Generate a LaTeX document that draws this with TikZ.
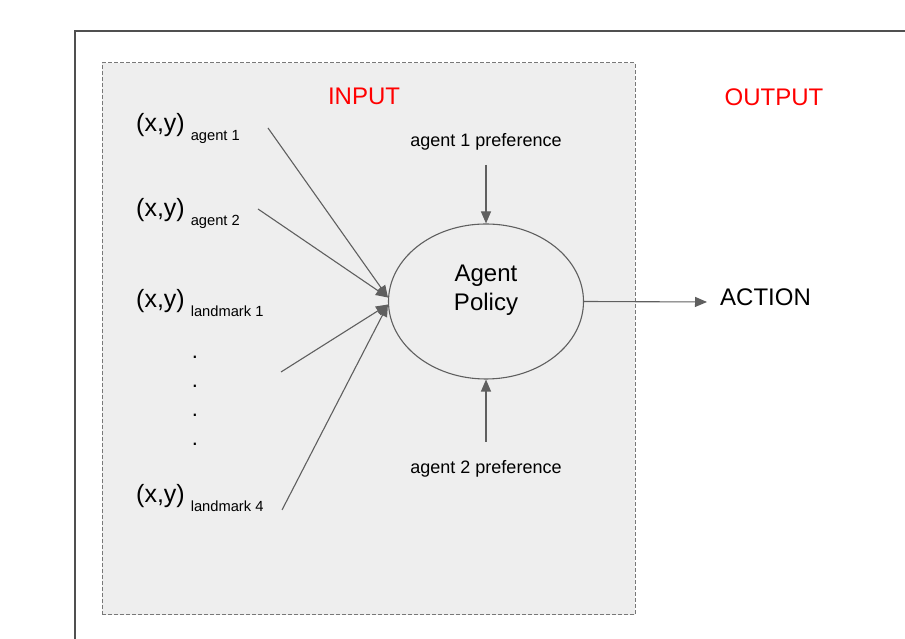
\documentclass[tikz,border=0pt]{standalone}
\usepackage{fontspec}
\setmainfont{Liberation Sans}
\usetikzlibrary{arrows.meta,shapes.geometric}
\definecolor{framegray}{RGB}{80,80,80}
\definecolor{dashgray}{RGB}{120,120,120}
\definecolor{boxfill}{RGB}{238,238,238}
\definecolor{arrgray}{RGB}{95,95,95}
\definecolor{redtxt}{RGB}{255,0,0}
\tikzset{
  conn/.style={draw=arrgray, line width=1.1pt, -{Triangle[length=12pt,width=10pt]}},
  bigtxt/.style={font=\fontsize{24}{29}\selectfont, inner sep=0pt},
  preftxt/.style={font=\fontsize{18}{22}\selectfont, inner sep=0pt, anchor=base},
  xylabel/.style={font=\fontsize{25}{30}\selectfont, inner sep=0pt, anchor=base west},
  dotmark/.style={font=\fontsize{22}{26}\selectfont, inner sep=0pt},
}
\newcommand{\subtxt}[1]{\hspace{6pt}\raisebox{-8.5pt}{\fontsize{14.7}{18}\selectfont #1}}
\begin{document}
\begin{tikzpicture}[x=1pt,y=1pt]
\useasboundingbox (0,0) rectangle (905,639);
% outer frame (cut by the picture edge)
\draw[framegray, line width=1.5pt] (905,608) -- (75,608) -- (75,0);
% input box
\draw[dashgray, fill=boxfill, line width=1pt, dash pattern=on 4pt off 2pt] (102,24) rectangle (635,576);
% titles
\node[bigtxt, text=redtxt, anchor=base] (input) at (364,534) {INPUT};
\node[bigtxt, text=redtxt, anchor=base] (output) at (774,533.5) {OUTPUT};
% policy ellipse
\node[draw=arrgray, line width=1.1pt, ellipse, minimum width=195pt, minimum height=155pt, inner sep=0pt] (policy) at (486,337.5) {};
\node[bigtxt, align=center] (policytxt) at (486,348.6) {Agent\\Policy};
% preferences
\node[preftxt] (pref1) at (486,492) {agent 1 preference};
\node[preftxt] (pref2) at (486,165) {agent 2 preference};
\coordinate (p1s) at (486,474);
\coordinate (p2s) at (486,197);
\draw[conn] (p1s) -- (policy.north);
\draw[conn] (p2s) -- (policy.south);
% action
\node[bigtxt, anchor=base west] (action) at (720,333) {ACTION};
\coordinate (acte) at (707,337);
\draw[conn] (policy.east) -- (acte);
% inputs
\node[xylabel] (xa1) at (136,507) {(x,y)\subtxt{agent 1}};
\node[xylabel] (xa2) at (136,422) {(x,y)\subtxt{agent 2}};
\node[xylabel] (xl1) at (136,331) {(x,y)\subtxt{landmark 1}};
\node[xylabel] (xl4) at (136,136) {(x,y)\subtxt{landmark 4}};
\node[dotmark] (d1) at (195,282) {.};
\node[dotmark] (d2) at (195,253) {.};
\node[dotmark] (d3) at (195,224) {.};
\node[dotmark] (d4) at (195,195) {.};
\coordinate (sa1) at (268,511);
\coordinate (sa2) at (258,430);
\coordinate (sl1) at (281,267);
\coordinate (sl4) at (282,129);
\coordinate (eup) at ([yshift=4pt]policy.west);
\coordinate (elo) at ([yshift=-3pt]policy.west);
\draw[conn] (sa1) -- (eup);
\draw[conn] (sa2) -- (eup);
\draw[conn] (sl1) -- (elo);
\draw[conn] (sl4) -- (elo);
\end{tikzpicture}
\end{document}
